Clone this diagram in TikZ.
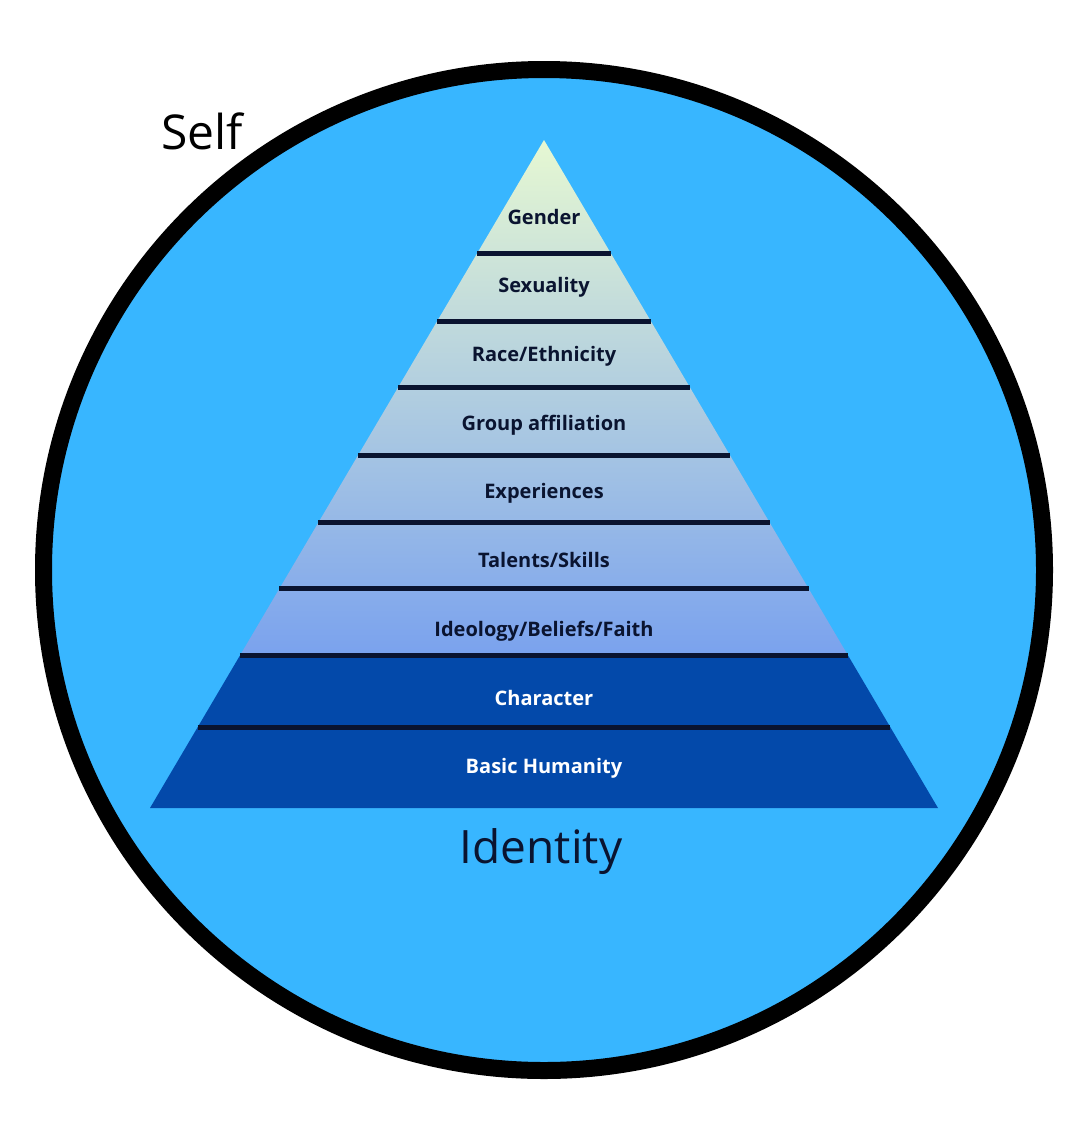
\documentclass[tikz,border=0pt]{standalone}
\usepackage{fontspec}
\setmainfont{Open Sans}
\usetikzlibrary{calc,positioning}
\definecolor{selfblue}{HTML}{38B6FF}
\definecolor{deepblue}{HTML}{0349AA}
\definecolor{navy}{HTML}{0A1430}
\definecolor{tipgreen}{HTML}{E6F8D2}
\definecolor{midblue}{HTML}{7AA2EE}
\tikzset{
  layer/.style={font=\bfseries\fontsize{20}{24}\selectfont, text=navy, anchor=base},
  deeplayer/.style={layer, text=white},
  bar/.style={draw=navy, line width=5pt},
}

\begin{document}
\begin{tikzpicture}[x=1pt,y=-1pt]
\useasboundingbox (0,0) rectangle (1080,1130);
\fill[white] (0,0) rectangle (1080,1130);
\node[circle, draw=black, line width=17pt, fill=selfblue, minimum size=1001pt, inner sep=0pt] (self) at (544,570) {};
\coordinate (top) at (544,140);
\coordinate (bl) at (150,808);
\coordinate (br) at (938,808);
\coordinate (cl) at ($(top)!0.772!(bl)$);
\coordinate (cr) at ($(top)!0.772!(br)$);
\shade[top color=tipgreen, bottom color=midblue] (top) -- (cl) -- (cr) -- cycle;
\fill[deepblue] (cl) -- (bl) -- (br) -- (cr) -- cycle;
\foreach \f in {0.170,0.271,0.371,0.472,0.573,0.672,0.772,0.879}
  \draw[bar] ($(top)!\f!(bl)$) -- ($(top)!\f!(br)$);
\foreach \name/\y/\sty/\txt in {gender/224/layer/Gender, sexuality/292/layer/Sexuality,
    race/361/layer/Race\slash Ethnicity, group/430/layer/Group affiliation,
    experiences/498/layer/Experiences, talents/567/layer/Talents\slash Skills,
    ideology/636/layer/Ideology\slash Beliefs\slash Faith,
    character/705/deeplayer/Character, humanity/773/deeplayer/Basic Humanity}
  \node[\sty] (\name) at (544,\y) {\txt};
\node[font=\fontsize{48}{56}\selectfont, anchor=base] (selflabel) at (202,149) {Self};
\node[font=\fontsize{46}{54}\selectfont, text=navy, anchor=base] (identity) at (541,863) {Identity};
\end{tikzpicture}
\end{document}
